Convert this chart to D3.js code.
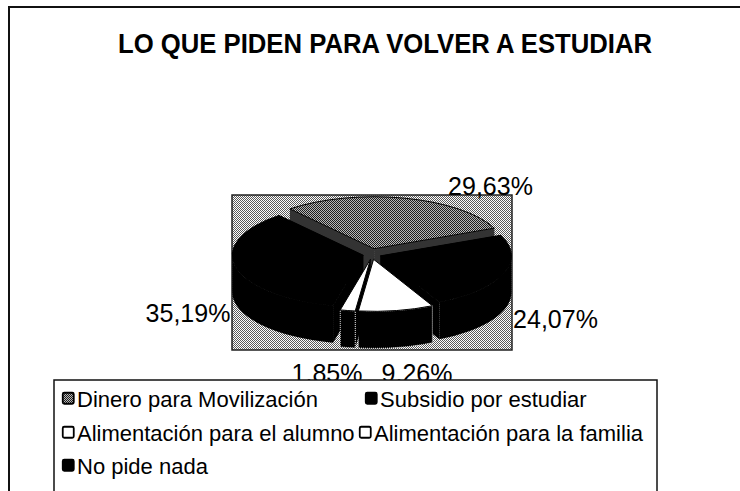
<!DOCTYPE html>
<html>
<head>
<meta charset="utf-8">
<script src="https://cdn.jsdelivr.net/npm/d3@7"></script>
<style>
  html, body { margin: 0; padding: 0; background: #fff; }
  svg { display: block; }
  text { font-family: "Liberation Sans", Arial, sans-serif; fill: #000; }
</style>
</head>
<body>
<svg id="chart" width="740" height="491"></svg>
<script>
// ---------- data ----------
const title = "LO QUE PIDEN PARA VOLVER A ESTUDIAR";
const categories = [
  "Dinero para Movilización",
  "Subsidio por estudiar",
  "Alimentación para el alumno",
  "Alimentación para la familia",
  "No pide nada"
];
const values = [29.63, 24.07, 9.26, 1.85, 35.19];
const valueLabels = ["29,63%", "24,07%", "9,26%", "1,85%", "35,19%"];

// ---------- styles / layout ----------
const sliceKind = ["dither", "black", "white", "white", "black"];
const svg = d3.select("#chart");
const defs = svg.append("defs");

function checker(id, a, b) {
  const p = defs.append("pattern").attr("id", id)
    .attr("width", 2).attr("height", 2).attr("patternUnits", "userSpaceOnUse");
  p.append("rect").attr("width", 2).attr("height", 2).attr("fill", b);
  p.append("rect").attr("x", 0).attr("y", 0).attr("width", 1).attr("height", 1).attr("fill", a);
  p.append("rect").attr("x", 1).attr("y", 1).attr("width", 1).attr("height", 1).attr("fill", a);
}
checker("bgDither", "#5a5a5a", "#ffffff");
checker("sliceDither", "#1e1e1e", "#b8b8b8");

const topFill = k => k === "dither" ? "url(#sliceDither)" : (k === "black" ? "#000" : "#fff");
const sideFill = k => k === "dither" ? "#333" : "#000";

// outer chart border
svg.append("rect").attr("x", 9).attr("y", 7).attr("width", 800).attr("height", 600)
  .attr("fill", "none").attr("stroke", "#111").attr("stroke-width", 2);

// title
svg.append("text").attr("x", 385).attr("y", 53).attr("text-anchor", "middle")
  .attr("font-size", 27).attr("font-weight", "bold")
  .attr("textLength", 534).attr("lengthAdjust", "spacingAndGlyphs")
  .text(title);

// plot area
const plot = { x: 232, y: 195, w: 280, h: 155 };
svg.append("rect").attr("x", plot.x).attr("y", plot.y).attr("width", plot.w).attr("height", plot.h)
  .attr("fill", "url(#bgDither)").attr("stroke", "#222").attr("stroke-width", 1.5);

// ---------- 3D pie ----------
const cx = 372, cy = 254, rx = 131, ry = 52, depth = 37, explode = 9, kY = 0.6;
const start = -40 * Math.PI / 180;
const arcs = d3.pie().sort(null).value(d => d)
  .startAngle(start).endAngle(start + 2 * Math.PI)(values);

arcs.forEach((a, i) => {
  const mid = (a.startAngle + a.endAngle) / 2;
  a.ox = cx + explode * Math.sin(mid);
  a.oy = cy - explode * kY * Math.cos(mid);
  a.kind = sliceKind[i];
  a.mid = mid;
});
const pt = (a, th, dz = 0) => [a.ox + rx * Math.sin(th), a.oy - ry * Math.cos(th) + dz];
const P = p => p[0].toFixed(2) + "," + p[1].toFixed(2);

const pieG = svg.append("g");
const order = arcs.slice().sort((p, q) => (-Math.cos(p.mid)) - (-Math.cos(q.mid)));
order.forEach(a => {
  const sf = sideFill(a.kind);
  const st = a.kind === "white" ? "#e8e8e8" : "none";
  [a.startAngle, a.endAngle].forEach(th => {
    const p = pt(a, th), q = pt(a, th, depth);
    pieG.append("path")
      .attr("d", `M${a.ox},${a.oy} L${P(p)} L${P(q)} L${a.ox},${a.oy + depth} Z`)
      .attr("fill", sf);
  });
  for (let k = -1; k <= 1; k++) {
    const lo = Math.PI / 2 + 2 * Math.PI * k, hi = 3 * Math.PI / 2 + 2 * Math.PI * k;
    const s = Math.max(lo, a.startAngle), e = Math.min(hi, a.endAngle);
    if (e > s) {
      pieG.append("path")
        .attr("d", `M${P(pt(a, s))} A${rx},${ry} 0 0 1 ${P(pt(a, e))} L${P(pt(a, e, depth))} A${rx},${ry} 0 0 0 ${P(pt(a, s, depth))} Z`)
        .attr("fill", sf).attr("stroke", st).attr("stroke-width", 1)
        .attr("stroke-dasharray", a.kind === "white" ? "1,1" : null);
    }
  }
});
arcs.forEach(a => {
  const large = (a.endAngle - a.startAngle) > Math.PI ? 1 : 0;
  pieG.append("path")
    .attr("d", `M${a.ox},${a.oy} L${P(pt(a, a.startAngle))} A${rx},${ry} 0 ${large} 1 ${P(pt(a, a.endAngle))} Z`)
    .attr("fill", topFill(a.kind)).attr("stroke", "#000").attr("stroke-width", 1);
});

// ---------- data labels ----------
const labelPos = [[490.5, 195], [555.5, 328], [417, 382], [327, 382], [188, 322]];
valueLabels.forEach((t, i) => {
  svg.append("text").attr("x", labelPos[i][0]).attr("y", labelPos[i][1])
    .attr("text-anchor", "middle").attr("font-size", 25).text(t);
});

// ---------- legend ----------
svg.append("rect").attr("x", 54).attr("y", 380).attr("width", 603).attr("height", 112)
  .attr("fill", "#fff").attr("stroke", "#111").attr("stroke-width", 1.5);
const legendPos = [[62, 0], [365, 0], [62, 1], [359, 1], [62, 2]];
const rowBase = [407, 441, 474];
categories.forEach((c, i) => {
  const x = legendPos[i][0], yb = rowBase[legendPos[i][1]];
  const k = sliceKind[i];
  svg.append("rect").attr("x", x + 0.75).attr("y", yb - 14.25).attr("width", 11).attr("height", 11)
    .attr("rx", 1.5)
    .attr("fill", topFill(k)).attr("stroke", "#000").attr("stroke-width", 1.8);
  svg.append("text").attr("x", x + 15).attr("y", yb).attr("font-size", 22).text(c);
});
</script>
</body>
</html>
